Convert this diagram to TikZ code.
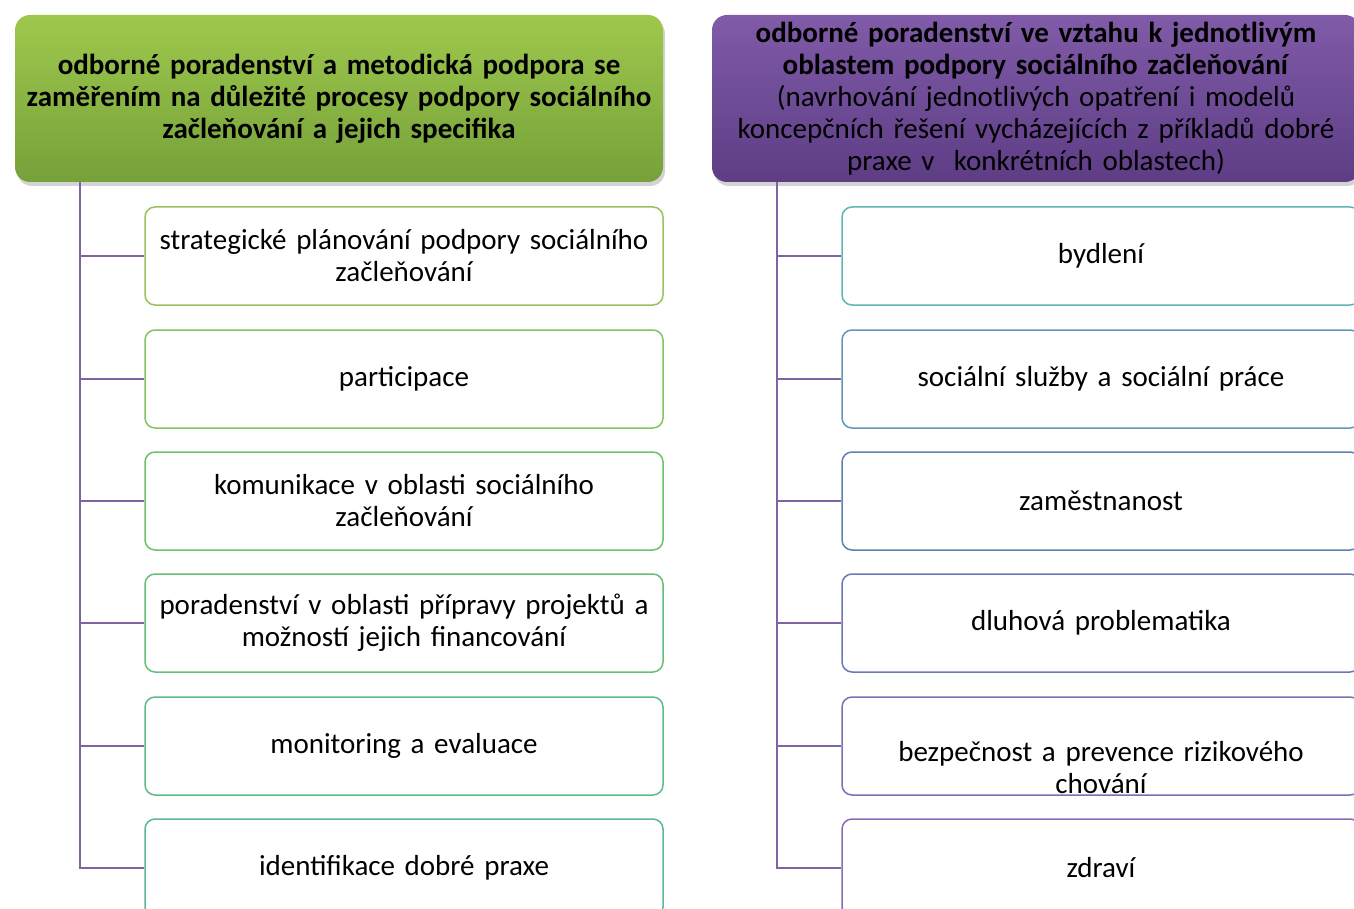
\documentclass[tikz,border=0pt]{standalone}
\usepackage{fontspec}
\setmainfont{Carlito}
\usepackage{tikz}
\usetikzlibrary{shadows}
\usetikzlibrary{positioning}

\definecolor{trunkpurple}{RGB}{128,100,162}
\definecolor{greentop}{RGB}{158,200,76}
\definecolor{greenbot}{RGB}{118,161,58}
\definecolor{purpletop}{RGB}{128,91,168}
\definecolor{purplebot}{RGB}{94,61,133}
\definecolor{lbA}{RGB}{155,195,91}
\definecolor{lbB}{RGB}{130,195,99}
\definecolor{lbC}{RGB}{108,194,106}
\definecolor{lbD}{RGB}{102,191,120}
\definecolor{lbE}{RGB}{96,187,136}
\definecolor{lbF}{RGB}{91,183,154}
\definecolor{rbA}{RGB}{95,180,184}
\definecolor{rbB}{RGB}{95,152,181}
\definecolor{rbC}{RGB}{95,128,179}
\definecolor{rbD}{RGB}{106,120,180}
\definecolor{rbE}{RGB}{122,112,180}
\definecolor{rbF}{RGB}{138,107,180}

\tikzset{
  headbox/.style={rounded corners=15pt, minimum width=648pt, minimum height=167pt,
    text width=636pt, inner xsep=6pt, inner ysep=0pt, align=center,
    font=\fontsize{29}{32}\selectfont,
    drop shadow={opacity=0.35, shadow xshift=2pt, shadow yshift=-4pt}},
  itembox/.style={draw, line width=1.5pt, fill=white, rounded corners=10pt,
    minimum width=518pt, minimum height=98pt, text width=500pt,
    inner xsep=9pt, inner ysep=0pt, align=center,
    font=\fontsize{29}{32}\selectfont},
  trunk/.style={draw=trunkpurple, line width=1.5pt}
}

\begin{document}
\begin{tikzpicture}[x=1pt, y=1pt]
	\useasboundingbox (0,0) rectangle (1354,-909);
	\clip (0,0) rectangle (1354,-909);

	% headers
	\node[headbox, top color=greentop, bottom color=greenbot] (lhead) at (339,-98.5)
	    {\bfseries odborné poradenství a metodická podpora se\\
	     zaměřením na důležité procesy podpory sociálního\\
	     začleňování a jejich specifika};
	\node[headbox, top color=purpletop, bottom color=purplebot] (rhead) at (1036,-98.5)
	    {\textbf{odborné poradenství ve vztahu k jednotlivým}\\
	     \textbf{oblastem podpory sociálního začleňování}\\
	     (navrhování jednotlivých opatření i modelů\\
	     koncepčních řešení vycházejících z příkladů dobré\\
	     praxe v~ konkrétních oblastech)};

	% left column
	\begin{scope}[every node/.style={itembox}]
		\node[draw=lbA] (l1) at (404,-256) {strategické plánování podpory sociálního\\ začleňování};
		\node[draw=lbB] (l2) at (404,-379) {participace};
		\node[draw=lbC] (l3) at (404,-501) {komunikace v oblasti sociálního\\ začleňování};
		\node[draw=lbD] (l4) at (404,-623) {poradenství v oblasti přípravy projektů a\\ možností jejich financování};
		\node[draw=lbE] (l5) at (404,-746) {monitoring a evaluace};
		\node[draw=lbF] (l6) at (404,-868) {identifikace dobré praxe};
	\end{scope}

	% right column
	\begin{scope}[every node/.style={itembox}]
		\node[draw=rbA] (r1) at (1101,-256) {bydlení};
		\node[draw=rbB] (r2) at (1101,-379) {sociální služby a sociální práce};
		\node[draw=rbC] (r3) at (1101,-501) {zaměstnanost};
		\node[draw=rbD] (r4) at (1101,-623) {dluhová problematika};
		\node[draw=rbE] (r5) at (1101,-746) {\mbox{}\\[32pt] bezpečnost a prevence rizikového\\ chování};
		\node[draw=rbF] (r6) at (1101,-868) {zdraví};
	\end{scope}

	\coordinate (lspine) at (80,0);
	\coordinate (rspine) at (777,0);

	% spines and branches
	\path[trunk] (lhead.south -| lspine) |- (l6.west);
	\path[trunk] (lspine |- l1.west) -- (l1.west);
	\path[trunk] (lspine |- l2.west) -- (l2.west);
	\path[trunk] (lspine |- l3.west) -- (l3.west);
	\path[trunk] (lspine |- l4.west) -- (l4.west);
	\path[trunk] (lspine |- l5.west) -- (l5.west);

	\path[trunk] (rhead.south -| rspine) |- (r6.west);
	\path[trunk] (rspine |- r1.west) -- (r1.west);
	\path[trunk] (rspine |- r2.west) -- (r2.west);
	\path[trunk] (rspine |- r3.west) -- (r3.west);
	\path[trunk] (rspine |- r4.west) -- (r4.west);
	\path[trunk] (rspine |- r5.west) -- (r5.west);
\end{tikzpicture}
\end{document}
